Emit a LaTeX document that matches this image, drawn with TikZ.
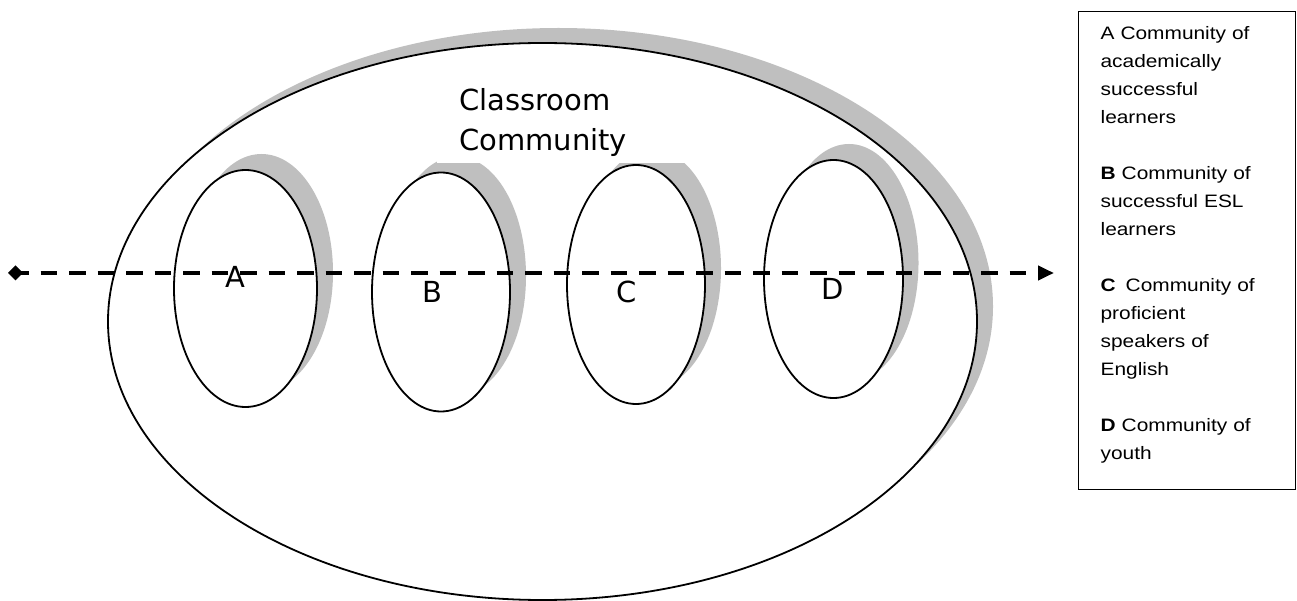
\documentclass[tikz,border=0pt]{standalone}
\usepackage{fontspec}
\setmainfont{DejaVu Sans}
\newfontfamily\keyfont[FakeStretch=1.16]{Liberation Sans}
\usepackage{tikz}
\usetikzlibrary{positioning,arrows.meta,shapes.geometric}
\definecolor{shadowgray}{RGB}{191,191,191}
\tikzset{
  commring/.style={ellipse,draw=black,line width=1.8pt,fill=white,inner sep=0pt},
  commshadow/.style={ellipse,fill=shadowgray,inner sep=0pt},
  ringsize/.style 2 args={minimum width=#1,minimum height=#2},
  letter/.style={anchor=base,inner sep=0pt,font=\fontsize{29}{34}\selectfont},
  roomtitle/.style={anchor=south west,fill=white,align=left,text width=216pt,inner xsep=22pt,inner ysep=6pt,font=\fontsize{29}{40}\selectfont},
  continuum/.style={line width=4pt,dash pattern=on 16.5pt off 12pt,dash phase=8pt,{Diamond[length=15pt,width=15pt]}-{Triangle[length=16pt,width=14pt]}},
  keybox/.style={rectangle,draw=black,line width=1.2pt,anchor=north west,align=left,text width=173pt,inner xsep=22pt,inner ysep=0pt,text height=27.5pt,text depth=450.5pt,font=\keyfont\fontsize{18}{28}\selectfont}
}
\begin{document}
\begin{tikzpicture}[x=1pt,y=-1pt]
  \useasboundingbox (0,0) rectangle (1297,601);
  % shadows first, white rings over them
  \node[commshadow,ringsize={869pt}{557pt}] (roomshadow) at (558.5,306.5) {};
  \node[commring,ringsize={869pt}{557pt}] (room) at (542.5,321.5) {};
  \node[commshadow,ringsize={143pt}{237pt}] (shadowA) at (261.5,272.5) {};
  \node[commshadow,ringsize={138pt}{239pt}] (shadowB) at (457,276) {};
  \node[commshadow,ringsize={138pt}{239pt}] (shadowC) at (652,268.5) {};
  \node[commshadow,ringsize={139pt}{238pt}] (shadowD) at (849,263) {};
  \node[roomtitle] (classroom) at (437,163) {Classroom\\Community};
  \node[commring,ringsize={143pt}{237pt}] (ringA) at (245.5,288.5) {};
  \node[commring,ringsize={138pt}{239pt}] (ringB) at (441,292) {};
  \node[commring,ringsize={138pt}{239pt}] (ringC) at (636,284.5) {};
  \node[commring,ringsize={139pt}{238pt}] (ringD) at (833.5,279) {};
  \node[letter] (labA) at (235,288) {A};
  \node[letter] (labB) at (432,302.6) {B};
  \node[letter] (labC) at (627,302.6) {C};
  \node[letter] (labD) at (833,299.6) {D};
  % the dashed continuum across the rings
  \coordinate (axisstart) at (8,273);
  \coordinate (axisend) at (1054,273);
  \draw[continuum] (axisstart) -- (axisend);
  \node[keybox] (key) at (1078,11) {A Community of\\academically\\successful\\learners\\[28pt]
    \textbf{B} Community of\\successful ESL\\learners\\[28pt]
    \textbf{C}\hspace{10pt}Community of\\proficient\\speakers of\\English\\[28pt]
    \textbf{D} Community of\\youth};
\end{tikzpicture}
\end{document}
